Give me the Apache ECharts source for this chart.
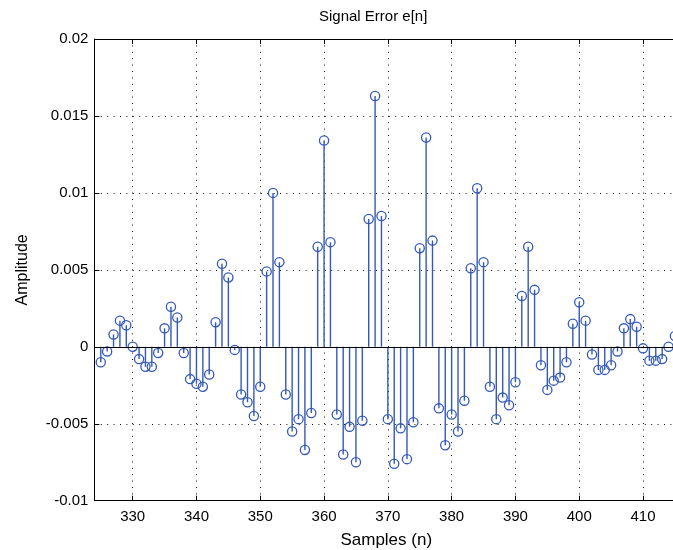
<!DOCTYPE html>
<html><head><meta charset="utf-8">
<script src="https://cdn.jsdelivr.net/npm/echarts@6/dist/echarts.min.js"></script>
<style>html,body{margin:0;padding:0;overflow:hidden;background:#fff}#c{width:680px;height:550px}</style>
</head><body><div id="c"></div>
<script>
const chartTitle = 'Signal Error e[n]';
const xName = 'Samples (n)';
const yName = 'Amplitude';
const samples = [];
for (let n = 325; n <= 415; n++) samples.push(n);
const errorValues = [
  -0.0010, -0.0003, 0.0008, 0.0017, 0.0014, 0.0000, -0.0008, -0.0013, -0.0013, -0.0004,
  0.0012, 0.0026, 0.0019, -0.0004, -0.0021, -0.0024, -0.0026, -0.0018, 0.0016, 0.0054,
  0.0045, -0.0002, -0.0031, -0.0036, -0.0045, -0.0026, 0.0049, 0.0100, 0.0055, -0.0031,
  -0.0055, -0.0047, -0.0067, -0.0043, 0.0065, 0.0134, 0.0068, -0.0044, -0.0070, -0.0052,
  -0.0075, -0.0048, 0.0083, 0.0163, 0.0085, -0.0047, -0.0076, -0.0053, -0.0073, -0.0049,
  0.0064, 0.0136, 0.0069, -0.0040, -0.0064, -0.0044, -0.0055, -0.0035, 0.0051, 0.0103,
  0.0055, -0.0026, -0.0047, -0.0033, -0.0038, -0.0023, 0.0033, 0.0065, 0.0037, -0.0012,
  -0.0028, -0.0022, -0.0020, -0.0010, 0.0015, 0.0029, 0.0017, -0.0005, -0.0015, -0.0015,
  -0.0012, -0.0003, 0.0012, 0.0018, 0.0013, -0.0001, -0.0009, -0.0009, -0.0008, 0.0000,
  0.0007
];
const xTicks = [330, 340, 350, 360, 370, 380, 390, 400, 410];
const yTickLabels = ['-0.01', '-0.005', '0', '0.005', '0.01', '0.015', '0.02'];

const FONT = "'Liberation Sans', Arial, sans-serif";
const STEM = '#3459b8';
const data = samples.map((n, i) => [n, errorValues[i]]);

const chart = echarts.init(document.getElementById('c'), null, {renderer: 'canvas'});
const dotted = {type: [1, 5.4], color: '#111', width: 1};
chart.setOption({
  animation: false,
  backgroundColor: '#fff',
  grid: {left: 94.4, right: 1.9, top: 39, bottom: 49.3, containLabel: false, outerBoundsMode: 'none'},
  graphic: [{
    type: 'text', left: 319, top: 9,
    style: {text: chartTitle, font: '15px ' + FONT, fill: '#000'}
  }],
  xAxis: [{
    type: 'value', min: 324, max: 415.5, position: 'bottom',
    name: xName, nameLocation: 'middle', nameGap: 31,
    nameTextStyle: {fontFamily: FONT, fontSize: 17, color: '#000'},
    axisLine: {show: true, onZero: false, lineStyle: {color: '#000', width: 1}},
    axisTick: {show: true, inside: true, length: 5, customValues: xTicks, lineStyle: {color: '#000'}},
    axisLabel: {customValues: xTicks, fontFamily: FONT, fontSize: 15, color: '#000', margin: 9},
    splitLine: {show: true, lineStyle: dotted}
  }, {
    type: 'value', min: 324, max: 415.5, position: 'top',
    axisLine: {show: true, onZero: false, lineStyle: {color: '#000', width: 1}},
    axisTick: {show: true, inside: true, length: 5, customValues: xTicks, lineStyle: {color: '#000'}},
    axisLabel: {show: false},
    splitLine: {show: false}
  }],
  yAxis: {
    type: 'value', min: -0.01, max: 0.02, interval: 0.005,
    name: yName, nameLocation: 'middle', nameGap: 64, nameRotate: 90,
    nameTextStyle: {fontFamily: FONT, fontSize: 16, color: '#000'},
    axisLine: {show: true, onZero: false, lineStyle: {color: '#000', width: 1}},
    axisTick: {show: true, inside: true, length: 5, lineStyle: {color: '#000'}},
    axisLabel: {
      fontFamily: FONT, fontSize: 15, color: '#000', margin: 6,
      formatter: v => yTickLabels[Math.round((v + 0.01) / 0.005)]
    },
    splitLine: {show: true, lineStyle: dotted}
  },
  series: [{
    type: 'custom',
    clip: true,
    data: data,
    encode: {x: 0, y: 1},
    renderItem: function (params, api) {
      const x = api.value(0), y = api.value(1);
      const p0 = api.coord([x, 0]);
      const p1 = api.coord([x, y]);
      return {
        type: 'group',
        children: [
          {type: 'line', shape: {x1: p0[0], y1: p0[1], x2: p1[0], y2: p1[1]},
           style: {stroke: STEM, lineWidth: 1.4}},
          {type: 'circle', shape: {cx: p1[0], cy: p1[1], r: 4.6},
           style: {fill: 'none', stroke: STEM, lineWidth: 1.3}}
        ]
      };
    },
    markLine: {
      silent: true, symbol: 'none', label: {show: false},
      lineStyle: {color: '#000', type: 'solid', width: 1.2},
      data: [{yAxis: 0}]
    }
  }]
});
</script>
</body></html>
